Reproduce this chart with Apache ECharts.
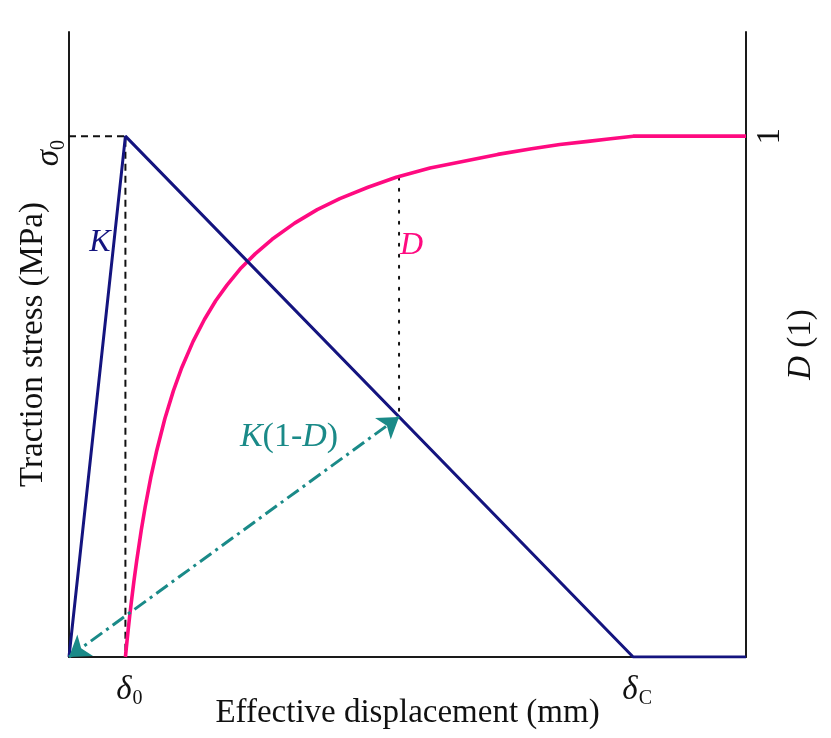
<!DOCTYPE html>
<html>
<head>
<meta charset="utf-8">
<script src="https://cdn.jsdelivr.net/npm/echarts@6/dist/echarts.min.js"></script>
<style>
  html, body { margin: 0; padding: 0; background: #ffffff; }
  #chart { width: 831px; height: 738px; }
</style>
</head>
<body>
<div id="chart"></div>
<script>
// Bilinear traction–separation law with its damage variable
const disp = [0, 1, 10, 12];                 // effective displacement (δ0 = 1, δC = 10)
const traction = [0, 1, 0, 0];               // traction stress, σ0 = 1

const damageDisp = [1.0, 1.01, 1.02, 1.035, 1.05, 1.075, 1.1, 1.15, 1.2, 1.28, 1.35, 1.45, 1.55, 1.7, 1.85,
                    2.0, 2.2, 2.4, 2.6, 2.8, 3.05, 3.3, 3.6, 4.0, 4.4, 4.8, 5.3, 5.8, 6.4, 7.0, 7.6, 8.2,
                    8.7, 9.2, 9.6, 10.0, 12.0];
const damageVal  = [0, 0.011, 0.022, 0.038, 0.053, 0.078, 0.101, 0.145, 0.185, 0.243, 0.288, 0.345, 0.394, 0.458, 0.511,
                    0.556, 0.606, 0.648, 0.684, 0.714, 0.747, 0.774, 0.802, 0.833, 0.859, 0.880, 0.902, 0.921, 0.939, 0.952, 0.965, 0.976,
                    0.984, 0.990, 0.995, 1.0, 1.0];

const xTickValues = [1, 10];
const xTickLabels = ['{d|δ}{s|0}', '{d|δ}{s|C}'];
const sigmaTick = [1];
const damageTick = [1];

// Unloading probe: secant stiffness K(1-D) at one point of the softening branch
const probeDisp = 5.85;
const probeDamage = 0.92;
const probeTraction = 0.461;

const NAVY = '#14147f';
const PINK = '#ff0a80';
const TEAL = '#1a8a88';
const FONT = '"Liberation Serif", "Times New Roman", serif';

const zip = (xs, ys) => xs.map((x, i) => [x, ys[i]]);

const chart = echarts.init(document.getElementById('chart'));

const axisLineStyle = { color: '#1a1a1a', width: 2 };
const origin = [disp[0], traction[0]];
const probe = [probeDisp, probeTraction];

chart.setOption({
  animation: false,
  backgroundColor: '#ffffff',
  grid: { left: 69, right: 85, top: 32, bottom: 81, containLabel: false, outerBoundsMode: 'none' },
  xAxis: {
    type: 'value', min: 0, max: 12,
    name: 'Effective displacement (mm)',
    nameLocation: 'middle', nameGap: 40, nameMoveOverlap: false,
    nameTextStyle: { fontFamily: FONT, fontSize: 33, color: '#111' },
    axisLine: { show: true, onZero: false, lineStyle: axisLineStyle },
    axisTick: { show: false },
    splitLine: { show: false },
    axisLabel: {
      customValues: xTickValues,
      margin: 14,
      formatter: (v) => xTickLabels[xTickValues.indexOf(v)],
      rich: {
        d: { fontFamily: FONT, fontSize: 33, fontStyle: 'italic', color: '#111', padding: [0, 0, 0, 8] },
        s: { fontFamily: FONT, fontSize: 20, color: '#111', padding: [18, 0, 0, 1] }
      }
    }
  },
  yAxis: [
    {
      type: 'value', min: 0, max: 1.2, position: 'left',
      name: 'Traction stress (MPa)',
      nameLocation: 'middle', nameGap: 19, nameMoveOverlap: false,
      nameTextStyle: { fontFamily: FONT, fontSize: 33, color: '#111' },
      axisLine: { show: true, onZero: false, lineStyle: axisLineStyle },
      axisTick: { show: false },
      splitLine: { show: false },
      axisLabel: {
        customValues: sigmaTick,
        rotate: 90,
        margin: 0,
        formatter: () => '{d|σ}{s|0}',
        rich: {
          d: { fontFamily: FONT, fontSize: 33, fontStyle: 'italic', color: '#111' },
          s: { fontFamily: FONT, fontSize: 20, color: '#111', padding: [20, 34, 0, 0] }
        }
      }
    },
    {
      type: 'value', min: 0, max: 1.2, position: 'right',
      name: '{i|D} (1)',
      nameLocation: 'middle', nameGap: 39, nameRotate: 90, nameMoveOverlap: false,
      nameTextStyle: {
        fontFamily: FONT, fontSize: 33, color: '#111',
        rich: { i: { fontFamily: FONT, fontSize: 33, fontStyle: 'italic', color: '#111' } }
      },
      axisLine: { show: true, onZero: false, lineStyle: axisLineStyle },
      axisTick: { show: false },
      splitLine: { show: false },
      axisLabel: {
        customValues: damageTick,
        rotate: 90,
        margin: 8,
        fontFamily: FONT, fontSize: 33, color: '#111'
      }
    }
  ],
  series: [
    {
      name: 'guide-sigma', type: 'line', symbol: 'none', silent: true, z: 2,
      data: [[disp[0], traction[1]], [disp[1], traction[1]], [disp[1], traction[0]]],
      lineStyle: { color: '#111', width: 2, type: [7, 5] }
    },
    {
      name: 'guide-probe', type: 'line', symbol: 'none', silent: true, z: 2,
      data: [[probeDisp, probeDamage], [probeDisp, probeTraction]],
      lineStyle: { color: '#111', width: 2, type: [2, 9], cap: 'round' }
    },
    {
      name: 'Traction', type: 'line', symbol: 'none', z: 4,
      data: zip(disp, traction),
      lineStyle: { color: NAVY, width: 3 }
    },
    {
      name: 'Damage', type: 'line', symbol: 'none', z: 3, yAxisIndex: 1,
      data: zip(damageDisp, damageVal),
      lineStyle: { color: PINK, width: 3.6, join: 'round' }
    },
    {
      // double-headed unloading arrow: the shaft with one head, plus a stroke-less return leg for the other head
      name: 'Unloading', type: 'line', symbol: 'none', data: [], z: 5, clip: false,
      markLine: {
        silent: true,
        symbol: ['none', 'arrow'],
        symbolSize: 20,
        label: { show: false },
        emphasis: { disabled: true },
        lineStyle: { color: TEAL, width: 3, type: [14, 5, 3, 5] },
        data: [
          [{ coord: origin }, { coord: probe }],
          [{ coord: probe, lineStyle: { width: 0 } }, { coord: origin, lineStyle: { width: 0 } }]
        ]
      }
    }
  ]
});

// In-plot annotations anchored in data coordinates
const annotations = [
  { at: [0.55, 0.795], text: '{i|K}', color: NAVY, size: 32 },
  { at: [6.07, 0.79], text: '{i|D}', color: PINK, size: 32 },
  { at: [3.9, 0.422], text: '{i|K}{n|(1-}{i|D}{n|)}', color: TEAL, size: 34 }
];

chart.setOption({
  graphic: annotations.map((a) => {
    const p = chart.convertToPixel({ gridIndex: 0 }, a.at);
    return {
      type: 'text', x: p[0], y: p[1], silent: true, z: 10,
      style: {
        text: a.text, align: 'center', verticalAlign: 'middle',
        rich: {
          i: { fontFamily: FONT, fontSize: a.size, fontStyle: 'italic', fill: a.color },
          n: { fontFamily: FONT, fontSize: a.size, fill: a.color }
        }
      }
    };
  })
});
</script>
</body>
</html>
